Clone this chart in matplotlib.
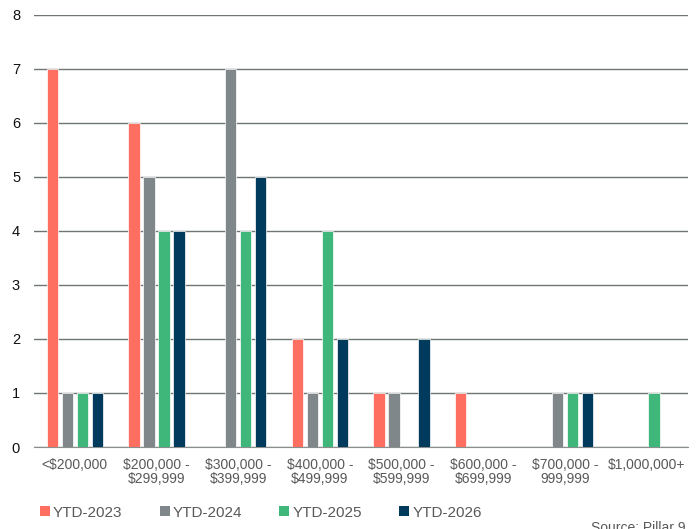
import numpy as np
import matplotlib
matplotlib.use("Agg")
import matplotlib.pyplot as plt
from matplotlib.patches import Patch

plt.rcParams['font.family'] = ['Liberation Sans', 'DejaVu Sans']

categories = ["<$200,000", "$200,000 -\n$299,999", "$300,000 -\n$399,999",
              "$400,000 -\n$499,999", "$500,000 -\n$599,999", "$600,000 -\n$699,999",
              "$700,000 -\n999,999", "$1,000,000+"]
series = ["YTD-2023", "YTD-2024", "YTD-2025", "YTD-2026"]
ytd_2023 = [7, 6, 0, 2, 1, 1, 0, 0]
ytd_2024 = [1, 5, 7, 1, 1, 0, 1, 0]
ytd_2025 = [1, 4, 4, 4, 0, 0, 1, 1]
ytd_2026 = [1, 4, 5, 2, 2, 0, 1, 0]
colors = ["#FF6F61", "#80878B", "#3FB77A", "#003A5D"]

fig = plt.figure(figsize=(6.99, 5.29), dpi=100)
ax = fig.add_axes([0.0486, 0.155, 0.935, 0.817])

x = np.arange(len(categories))
width = 0.14
step = 0.184
for i, (vals, c) in enumerate(zip([ytd_2023, ytd_2024, ytd_2025, ytd_2026], colors)):
    ax.bar(x + (i - 1.5) * step, vals, width, color=c, edgecolor="white",
           linewidth=0.5, zorder=3, label=series[i])

ax.set_xlim(-0.5, len(categories) - 0.5)
ax.set_ylim(0, 8)
ax.set_yticks(range(0, 9))
ax.yaxis.grid(True, color="#6E7573", linewidth=1, zorder=0)
ax.set_axisbelow(True)
for s in ["left", "right", "top"]:
    ax.spines[s].set_visible(False)
ax.spines["bottom"].set_color("#8A8F8E")
ax.tick_params(axis="both", length=0)
ax.tick_params(axis="y", labelsize=10.5, labelcolor="#111111", pad=10)
ax.set_xticks(x)
ax.set_xticklabels(categories, fontsize=10, color="#595959", linespacing=0.95)
ax.tick_params(axis="x", pad=8)

handles = [Patch(facecolor=c, label=s) for c, s in zip(colors, series)]
fig.legend(handles=handles, loc="center left", bbox_to_anchor=(0.048, 0.031), ncol=4,
           frameon=False, fontsize=11, handlelength=0.65, handleheight=0.65,
           handletextpad=0.2, columnspacing=2.45, labelcolor="#595959",
           borderaxespad=0)

fig.text(0.845, 0.016, "Source: Pillar 9", fontsize=10, color="#595959", va="top")

fig.savefig("out.png", dpi=100)
